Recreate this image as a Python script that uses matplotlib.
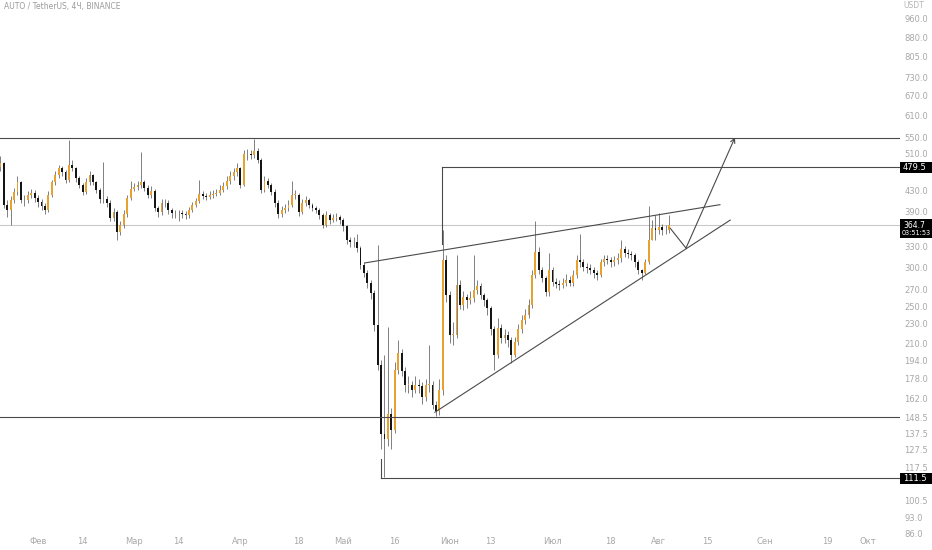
import numpy as np
import pandas as pd
import matplotlib
matplotlib.use("Agg")
import matplotlib.pyplot as plt
import matplotlib.dates as mdates
from matplotlib.ticker import NullLocator
from matplotlib.patches import Rectangle

# daily candles (AUTO / USDT), starting 2022-01-21
closes = [488, 402, 392, 411, 427, 447, 411, 411, 421, 425,
          415, 407, 400, 392, 421, 447, 462, 477, 468, 451,
          484, 477, 455, 441, 427, 447, 462, 447, 431, 413,
          413, 405, 378, 388, 354, 366, 385, 415, 433, 437,
          441, 447, 435, 421, 429, 396, 388, 405, 405, 392,
          386, 386, 386, 385, 383, 392, 402, 409, 423, 419,
          417, 421, 423, 425, 431, 439, 449, 460, 468, 477,
          441, 510, 510, 508, 517, 496, 431, 449, 441, 427,
          405, 385, 392, 396, 402, 421, 421, 388, 405, 411,
          402, 396, 392, 383, 366, 383, 374, 378, 379, 374,
          364, 341, 337, 337, 328, 303, 292, 278, 266, 229,
          190, 137, 134, 151, 140, 185, 201, 184, 173, 173,
          169, 173, 172, 163, 173, 173, 157, 153, 169, 310,
          263, 218, 218, 276, 251, 261, 257, 259, 270, 274,
          263, 257, 248, 224, 199, 226, 215, 218, 213, 199,
          211, 224, 234, 240, 251, 289, 322, 296, 285, 267,
          296, 280, 277, 276, 279, 283, 279, 289, 310, 307,
          300, 299, 296, 292, 289, 307, 312, 310, 307, 310,
          313, 327, 321, 319, 318, 307, 296, 292, 307, 341,
          360, 357, 362, 357, 357, 364.7]

highs = [505, 492, 410, 418, 435, 460, 450, 420, 428, 433,
         430, 420, 412, 405, 428, 452, 470, 485, 482, 472,
         545, 495, 480, 460, 445, 455, 470, 465, 450, 435,
         490, 418, 410, 395, 392, 372, 392, 420, 449, 445,
         450, 515, 452, 440, 438, 432, 400, 412, 412, 410,
         396, 393, 392, 392, 390, 398, 408, 415, 452, 428,
         425, 428, 430, 432, 440, 448, 460, 470, 478, 488,
         480, 520, 522, 520, 547, 525, 500, 460, 455, 446,
         432, 410, 400, 403, 410, 449, 430, 425, 412, 418,
         415, 406, 400, 396, 386, 390, 386, 385, 386, 383,
         378, 366, 345, 345, 350, 332, 308, 296, 282, 270,
         333, 194, 199, 227, 155, 192, 213, 204, 188, 180,
         176, 180, 178, 175, 178, 208, 176, 160, 178, 357,
         318, 268, 232, 318, 282, 268, 265, 268, 318, 282,
         278, 266, 260, 250, 228, 236, 230, 224, 222, 216,
         216, 230, 240, 246, 258, 296, 372, 330, 300, 288,
         320, 300, 285, 283, 285, 290, 288, 296, 318, 351,
         312, 306, 304, 300, 296, 312, 318, 318, 315, 316,
         320, 340, 332, 326, 324, 320, 310, 298, 312, 400,
         375, 383, 387, 368, 366, 383]

lows = [470, 395, 380, 366, 405, 420, 405, 400, 405, 415,
        408, 398, 392, 385, 388, 416, 440, 455, 460, 445,
        448, 470, 448, 435, 420, 422, 440, 440, 425, 405,
        405, 398, 372, 372, 341, 348, 360, 380, 410, 428,
        430, 435, 428, 415, 415, 390, 380, 383, 398, 385,
        378, 378, 372, 378, 376, 378, 388, 398, 405, 412,
        410, 412, 415, 418, 420, 426, 432, 442, 452, 460,
        435, 438, 495, 498, 500, 488, 425, 426, 435, 420,
        398, 378, 380, 386, 390, 398, 412, 382, 385, 400,
        396, 390, 386, 376, 360, 362, 368, 370, 372, 367,
        356, 334, 330, 330, 322, 298, 286, 272, 258, 222,
        185, 128, 112, 130, 128, 138, 182, 180, 167, 166,
        163, 166, 166, 158, 160, 167, 154, 149, 150, 165,
        255, 210, 208, 215, 246, 245, 248, 252, 255, 265,
        258, 250, 240, 218, 185, 196, 210, 210, 206, 191,
        197, 208, 220, 230, 236, 248, 285, 290, 280, 262,
        262, 275, 272, 270, 272, 275, 274, 275, 285, 300,
        294, 292, 290, 285, 282, 286, 302, 304, 300, 302,
        305, 308, 315, 313, 310, 300, 290, 283, 290, 305,
        340, 340, 350, 348, 350, 352]

first_open = 480
start_date = "2022-01-21"

# drawings: (day index, price)
resistance = 550.0
support = 148.5
last_price = 364.7
target_price = 479.5
low_price = 111.5
target_day = 128.8
low_day = 111.0
lower_trend = [(126.7, 152), (212.8, 374)]
upper_trend = [(106.3, 306), (209.8, 402)]
path_days = [195.3, 199.9, 214.2]
path_prices = [360, 328, 551]

yticks = [960.0, 880.0, 805.0, 730.0, 670.0, 610.0, 550.0, 510.0,
          430.0, 390.0, 330.0, 300.0, 270.0, 250.0, 230.0, 210.0, 194.0,
          178.0, 162.0, 148.5, 137.5, 127.5, 117.5, 100.5, 93.0, 86.0]
xtick_dates = ["2022-02-01", "2022-02-14", "2022-03-01", "2022-03-14",
               "2022-04-01", "2022-04-18", "2022-05-01", "2022-05-16",
               "2022-06-01", "2022-06-13", "2022-07-01", "2022-07-18",
               "2022-08-01", "2022-08-15", "2022-09-01", "2022-09-19",
               "2022-10-01"]
xtick_labels = ["Фев", "14", "Мар", "14", "Апр", "18", "Май", "16", "Июн",
                "13", "Июл", "18", "Авг", "15", "Сен", "19", "Окт"]

W, H = 932, 550
dates = mdates.date2num(pd.date_range(start_date, periods=len(closes), freq="D"))
d0 = dates[0]
closes = np.array(closes, dtype=float)
opens = np.concatenate([[first_open], closes[:-1]])
highs = np.array(highs, dtype=float)
lows = np.array(lows, dtype=float)

fig = plt.figure(figsize=(W / 100, H / 100), dpi=100)
ax = fig.add_axes([0, 0, 900 / W, 1.0])

up_col = "#e8a030"
down_col = "#151515"
line_col = "#4a4a4a"

up = closes >= opens
colors = np.where(up, up_col, down_col)
ax.vlines(dates, lows, highs, color="#4d4d4d", linewidth=0.5, zorder=2)
bottoms = np.minimum(opens, closes)
heights = np.maximum(np.abs(closes - opens), 0.8)
ax.bar(dates, heights, bottom=bottoms, width=0.55, color=colors,
       linewidth=0, zorder=3)

ax.set_yscale("log")
ax.yaxis.set_minor_locator(NullLocator())
ax.set_yticks(yticks)
ax.set_yticklabels([f"{v:.1f}" for v in yticks])
ax.tick_params(axis="y", left=False, right=False, labelleft=False, labelright=True,
               length=0, pad=3, labelsize=6, labelcolor="#a8a8a8")
ax.set_xticks([])

xmax = d0 + 262.3
ax.set_ylim(79.7, 1049)
ax.set_xlim(d0 - 0.1, xmax)

# time scale labels along the bottom strip
for ds, lab in zip(xtick_dates, xtick_labels):
    ax.text(mdates.date2num(pd.Timestamp(ds)), 9 / H, lab,
            transform=ax.get_xaxis_transform(), ha="center", va="center",
            fontsize=6, color="#a8a8a8")

# horizontal levels
ax.axhline(resistance, color=line_col, linewidth=0.8, zorder=4)
ax.axhline(support, color=line_col, linewidth=0.8, zorder=4)
ax.axhline(last_price, color="#c9c9c9", linewidth=0.8, zorder=1)

# target / low brackets
ax.plot([d0 + target_day, d0 + target_day], [target_price, 335], color=line_col, linewidth=0.8, zorder=4)
ax.plot([d0 + target_day, xmax], [target_price, target_price], color=line_col, linewidth=0.8, zorder=4)
ax.plot([d0 + low_day, d0 + low_day], [122, low_price], color=line_col, linewidth=0.8, zorder=4)
ax.plot([d0 + low_day, xmax], [low_price, low_price], color=line_col, linewidth=0.8, zorder=4)

# triangle
for seg in (lower_trend, upper_trend):
    ax.plot([d0 + seg[0][0], d0 + seg[1][0]], [seg[0][1], seg[1][1]],
            color=line_col, linewidth=0.8, zorder=4)

# projected path
px = [d0 + d for d in path_days]
ax.plot(px[:-1], path_prices[:-1], color=line_col, linewidth=0.8, zorder=4)
ax.annotate("", xy=(px[2], path_prices[2]), xytext=(px[1], path_prices[1]),
            arrowprops=dict(arrowstyle="->", color=line_col, linewidth=0.8,
                            mutation_scale=8, shrinkA=0, shrinkB=0), zorder=4)

for s in ax.spines.values():
    s.set_visible(False)


def price_to_fig_y(price):
    return ax.transAxes.inverted().transform(ax.transData.transform((d0, price)))[1]


# price boxes on the scale (black tags running to the right edge)
for val, txt in [(target_price, "479.5"), (low_price, "111.5")]:
    fy = price_to_fig_y(val)
    fig.add_artist(Rectangle((900 / W, fy - 5.5 / H), 32 / W, 11 / H,
                             transform=fig.transFigure, fc="black", ec="none", zorder=10))
    fig.text(903 / W, fy, txt, ha="left", va="center", fontsize=6, color="white", zorder=11)

fy = price_to_fig_y(last_price)
fig.add_artist(Rectangle((900 / W, fy - 13 / H), 32 / W, 19 / H,
                         transform=fig.transFigure, fc="black", ec="none", zorder=10))
fig.text(903 / W, fy, "364.7", ha="left", va="center", fontsize=5.5, color="white", zorder=11)
fig.text(901.5 / W, fy - 8 / H, "03:51:53", ha="left", va="center", fontsize=4.7,
         color="white", zorder=11)

fig.text(903 / W, 1 - 6 / H, "USDT", ha="left", va="center", fontsize=5.5, color="#b5b5b5")
fig.text(4 / W, 1 - 7 / H, "AUTO / TetherUS, 4Ч, BINANCE", ha="left", va="center",
         fontsize=5.5, color="#9a9a9a")

fig.savefig("out.png", dpi=100, facecolor="white")
